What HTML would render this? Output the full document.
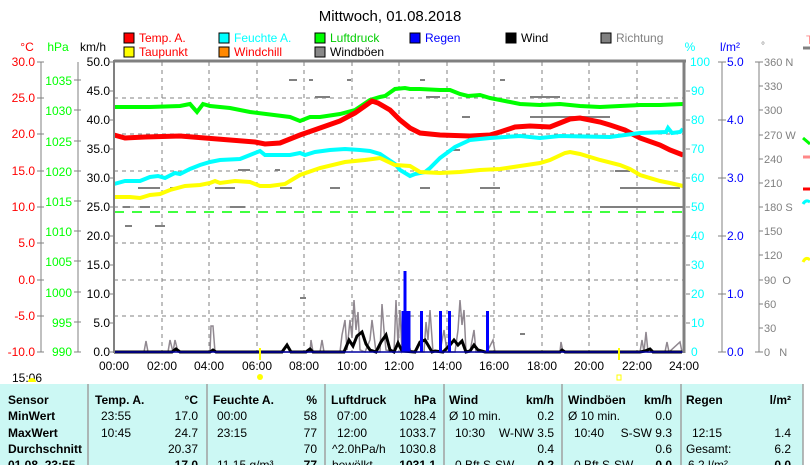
<!DOCTYPE html>
<html><head><meta charset="utf-8"><style>
html,body{margin:0;padding:0;background:#fff;}
svg{display:block;font-family:"Liberation Sans",sans-serif;}
</style></head><body>
<svg width="810" height="465" viewBox="0 0 810 465" xmlns="http://www.w3.org/2000/svg">
<rect width="810" height="465" fill="#fff"/>
<text x="390" y="21" font-size="15" text-anchor="middle" fill="#000">Mittwoch, 01.08.2018</text>
<!-- legend -->
<g font-size="12">
<rect x="124" y="33" width="10" height="10" fill="#f00" stroke="#000"/><text x="139" y="42" fill="#f00">Temp. A.</text>
<rect x="124" y="47" width="10" height="10" fill="#ff0" stroke="#000"/><text x="139" y="56" fill="#f00">Taupunkt</text>
<rect x="219" y="33" width="10" height="10" fill="#0ff" stroke="#000"/><text x="234" y="42" fill="#0ff">Feuchte A.</text>
<rect x="219" y="47" width="10" height="10" fill="#f80" stroke="#000"/><text x="234" y="56" fill="#f00">Windchill</text>
<rect x="315" y="33" width="10" height="10" fill="#0f0" stroke="#000"/><text x="330" y="42" fill="#0c0">Luftdruck</text>
<rect x="315" y="47" width="10" height="10" fill="#888" stroke="#000"/><text x="330" y="56" fill="#000">Windböen</text>
<rect x="410" y="33" width="10" height="10" fill="#00f" stroke="#000"/><text x="425" y="42" fill="#00f">Regen</text>
<rect x="506" y="33" width="10" height="10" fill="#000" stroke="#000"/><text x="521" y="42" fill="#000">Wind</text>
<rect x="601" y="33" width="10" height="10" fill="#808080" stroke="#000"/><text x="616" y="42" fill="#808080">Richtung</text>
</g>
<g font-size="12">
<text x="27" y="51" text-anchor="middle" fill="#f00">°C</text>
<text x="58" y="51" text-anchor="middle" fill="#0f0">hPa</text>
<text x="93" y="51" text-anchor="middle" fill="#000">km/h</text>
<text x="690" y="51" text-anchor="middle" fill="#0ff">%</text>
<text x="730" y="51" text-anchor="middle" fill="#00f">l/m²</text>
<text x="763" y="49" text-anchor="middle" fill="#808080" font-size="10">°</text>
<text x="806" y="44" fill="#f88">T</text>
</g>
<!-- plot grid -->
<g stroke="#808080" stroke-width="1" stroke-dasharray="4,4" fill="none">
<line x1="114" y1="98" x2="684" y2="98"/><line x1="114" y1="134" x2="684" y2="134"/>
<line x1="114" y1="171" x2="684" y2="171"/><line x1="114" y1="207" x2="684" y2="207"/>
<line x1="114" y1="243" x2="684" y2="243"/><line x1="114" y1="280" x2="684" y2="280"/>
<line x1="114" y1="316" x2="684" y2="316"/>
<line x1="162" y1="62" x2="162" y2="352"/><line x1="209" y1="62" x2="209" y2="352"/>
<line x1="257" y1="62" x2="257" y2="352"/><line x1="304" y1="62" x2="304" y2="352"/>
<line x1="352" y1="62" x2="352" y2="352"/><line x1="399" y1="62" x2="399" y2="352"/>
<line x1="447" y1="62" x2="447" y2="352"/><line x1="494" y1="62" x2="494" y2="352"/>
<line x1="542" y1="62" x2="542" y2="352"/><line x1="589" y1="62" x2="589" y2="352"/>
<line x1="637" y1="62" x2="637" y2="352"/>
</g>
<line x1="114" y1="212" x2="684" y2="212" stroke="#0f0" stroke-width="1.5" stroke-dasharray="10,8"/>
<!-- richtung scatter -->
<g stroke="#808080" stroke-width="2">
<line x1="289" y1="80" x2="297" y2="80"/><line x1="309" y1="80" x2="313" y2="80"/><line x1="347" y1="80" x2="351" y2="80"/>
<line x1="315" y1="97" x2="330" y2="97"/><line x1="500" y1="80" x2="505" y2="80"/><line x1="420" y1="80" x2="425" y2="80"/>
<line x1="426" y1="97" x2="440" y2="97"/><line x1="530" y1="117" x2="610" y2="117"/><line x1="530" y1="97" x2="560" y2="97"/>
<line x1="138" y1="188" x2="160" y2="188"/><line x1="170" y1="188" x2="175" y2="188"/><line x1="215" y1="188" x2="235" y2="188"/>
<line x1="238" y1="170" x2="250" y2="170"/><line x1="275" y1="170" x2="280" y2="170"/>
<line x1="123" y1="207" x2="130" y2="207"/><line x1="140" y1="207" x2="150" y2="207"/><line x1="230" y1="207" x2="245" y2="207"/>
<line x1="125" y1="226" x2="132" y2="226"/><line x1="155" y1="226" x2="165" y2="226"/>
<line x1="620" y1="188" x2="680" y2="188"/><line x1="615" y1="171" x2="630" y2="171"/><line x1="600" y1="207" x2="684" y2="207"/>
<line x1="480" y1="188" x2="500" y2="188"/><line x1="420" y1="188" x2="430" y2="188"/><line x1="330" y1="188" x2="340" y2="188"/>
<line x1="280" y1="188" x2="292" y2="188"/><line x1="450" y1="150" x2="460" y2="150"/><line x1="462" y1="117" x2="470" y2="117"/>
<line x1="300" y1="298" x2="306" y2="298"/><line x1="520" y1="334" x2="525" y2="334"/>
</g>
<!-- wind gusts -->
<polyline fill="none" stroke="#908890" stroke-width="1.5" points="114,352 144,352 146,341 148,352 168,352 170,340 173,352 175,340 178,352 210,352 211,326 213,326 215,352 310,352 311,340 313,352 320,352 322,340 324,352 340,352 342,335 345,320 347,350 350,320 352,338 354,300 356,330 358,312 360,350 365,352 370,340 372,320 376,352 380,352 382,304 384,330 386,350 394,352 396,300 398,345 400,310 402,352 409,345 411,352 424,352 426,322 428,340 430,310 433,352 440,352 444,330 447,352 455,352 458,330 460,300 462,325 464,310 466,352 470,352 474,330 476,352 487,352 493,340 495,352 560,352 561,342 563,352 640,352 642,340 644,352 646,332 648,352 665,352 667,342 669,352 680,342 682,352"/>
<!-- wind -->
<polyline fill="none" stroke="#000" stroke-width="3" points="114,352 172,352 176,349 180,352 210,352 213,350 216,352 282,352 287,345 291,352 306,352 310,349 313,352 344,352 349,340 353,346 357,336 362,332 366,344 370,350 376,352 381,342 386,335 390,350 394,352 398,343 402,351 415,352 420,342 425,340 428,345 432,352 435,351 443,352 450,345 454,340 458,345 462,341 466,352 470,351 474,345 478,350 485,352 560,352 562,350 565,352 640,352 645,351 650,349 653,352 682,352"/>
<!-- rain bars -->
<g fill="#0000ff">
<rect x="401.5" y="311" width="9" height="41"/><rect x="403.5" y="271" width="3" height="41"/>
<rect x="420" y="311" width="3" height="41"/><rect x="439" y="311" width="3" height="41"/><rect x="448" y="311" width="3" height="41"/><rect x="486" y="311" width="3" height="41"/>
</g>
<line x1="114" y1="352" x2="684" y2="352" stroke="#0000a0" stroke-width="1.5"/>
<!-- series -->
<polyline fill="none" stroke="#0f0" stroke-width="4" points="114,107 150,107 180,106 190,104 197,112 203,104 210,106 230,108 250,112 290,117 300,121 310,117 320,117 340,114 355,110 370,100 380,97 385,96 395,89 405,88 410,89 420,89 440,90 450,90 460,94 468,96 480,95 490,98 500,100 520,104 540,105 560,104 580,106 600,107 620,106 640,105 660,105 683,104"/>
<polyline fill="none" stroke="#f00" stroke-width="5" points="114,135 125,138 145,137 180,136 230,140 255,142 265,144 280,143 300,135 320,128 340,121 355,113 365,106 372,101 378,103 390,110 400,120 410,128 420,133 440,135 470,136 490,135 500,132 515,127 530,126 550,127 560,123 570,119 580,118 600,122 610,125 625,130 640,138 660,145 670,150 683,155"/>
<polyline fill="none" stroke="#0ff" stroke-width="4" points="114,184 125,181 140,181 150,177 158,176 165,178 175,173 180,174 190,169 200,165 210,162 220,160 240,159 250,155 260,151 265,155 290,155 300,153 305,155 315,152 330,150 345,149 360,150 370,151 380,154 395,164 400,170 410,176 415,174 425,172 430,168 440,158 455,147 470,140 490,138 520,136 540,138 560,136 610,137 625,135 640,133 666,132 668,128 672,133 680,132 683,129"/>
<polyline fill="none" stroke="#ff0" stroke-width="4" points="114,197 130,197 140,198 150,195 160,194 170,190 185,186 200,185 210,183 215,181 220,183 235,181 250,182 260,186 270,186 285,184 300,175 320,168 345,162 365,160 380,158 395,165 410,166 420,172 440,173 460,172 480,170 500,169 520,166 540,163 550,160 565,153 570,152 580,154 600,160 620,165 630,169 640,175 660,181 670,183 683,186"/>
<!-- frame -->
<line x1="114" y1="61" x2="686" y2="61" stroke="#808080" stroke-width="3"/>
<line x1="114" y1="60" x2="114" y2="353" stroke="#808080" stroke-width="2"/>
<line x1="684" y1="60" x2="684" y2="353" stroke="#808080" stroke-width="3"/>
<!-- left axes -->
<g stroke="#808080" stroke-width="1">
<line x1="41" y1="62" x2="41" y2="352"/><line x1="78" y1="62" x2="78" y2="352"/>
<line x1="37" y1="62" x2="44" y2="62"/><line x1="37" y1="98" x2="44" y2="98"/><line x1="37" y1="134" x2="44" y2="134"/><line x1="37" y1="171" x2="44" y2="171"/><line x1="37" y1="207" x2="44" y2="207"/><line x1="37" y1="243" x2="44" y2="243"/><line x1="37" y1="280" x2="44" y2="280"/><line x1="37" y1="316" x2="44" y2="316"/><line x1="37" y1="352" x2="44" y2="352"/>
<line x1="74" y1="80" x2="81" y2="80"/><line x1="74" y1="110" x2="81" y2="110"/><line x1="74" y1="141" x2="81" y2="141"/><line x1="74" y1="171" x2="81" y2="171"/><line x1="74" y1="201" x2="81" y2="201"/><line x1="74" y1="231" x2="81" y2="231"/><line x1="74" y1="261" x2="81" y2="261"/><line x1="74" y1="292" x2="81" y2="292"/><line x1="74" y1="322" x2="81" y2="322"/><line x1="74" y1="352" x2="81" y2="352"/>
<line x1="110" y1="62" x2="114" y2="62"/><line x1="110" y1="91" x2="114" y2="91"/><line x1="110" y1="120" x2="114" y2="120"/><line x1="110" y1="149" x2="114" y2="149"/><line x1="110" y1="178" x2="114" y2="178"/><line x1="110" y1="207" x2="114" y2="207"/><line x1="110" y1="236" x2="114" y2="236"/><line x1="110" y1="265" x2="114" y2="265"/><line x1="110" y1="294" x2="114" y2="294"/><line x1="110" y1="323" x2="114" y2="323"/><line x1="110" y1="352" x2="114" y2="352"/>
</g>
<g font-size="12" text-anchor="end" fill="#f00">
<text x="35" y="66">30.0</text><text x="35" y="102">25.0</text><text x="35" y="138">20.0</text><text x="35" y="175">15.0</text><text x="35" y="211">10.0</text><text x="35" y="247">5.0</text><text x="35" y="284">0.0</text><text x="35" y="320">-5.0</text><text x="35" y="356">-10.0</text>
</g>
<g font-size="12" text-anchor="end" fill="#0f0">
<text x="72" y="85">1035</text><text x="72" y="115">1030</text><text x="72" y="146">1025</text><text x="72" y="176">1020</text><text x="72" y="206">1015</text><text x="72" y="236">1010</text><text x="72" y="266">1005</text><text x="72" y="297">1000</text><text x="72" y="327">995</text><text x="72" y="356">990</text>
</g>
<g font-size="12" text-anchor="end" fill="#000">
<text x="110" y="66">50.0</text><text x="110" y="95">45.0</text><text x="110" y="124">40.0</text><text x="110" y="153">35.0</text><text x="110" y="182">30.0</text><text x="110" y="211">25.0</text><text x="110" y="240">20.0</text><text x="110" y="269">15.0</text><text x="110" y="298">10.0</text><text x="110" y="327">5.0</text><text x="110" y="356">0.0</text>
</g>
<!-- x labels -->
<g font-size="12" text-anchor="middle" fill="#000">
<text x="114" y="370">00:00</text><text x="162" y="370">02:00</text><text x="209" y="370">04:00</text><text x="257" y="370">06:00</text><text x="304" y="370">08:00</text><text x="352" y="370">10:00</text><text x="399" y="370">12:00</text><text x="447" y="370">14:00</text><text x="494" y="370">16:00</text><text x="542" y="370">18:00</text><text x="589" y="370">20:00</text><text x="637" y="370">22:00</text><text x="684" y="370">24:00</text>
</g>
<line x1="260" y1="348" x2="260" y2="360" stroke="#ff0" stroke-width="2"/>
<line x1="619" y1="348" x2="619" y2="360" stroke="#ff0" stroke-width="2"/>
<circle cx="260" cy="377" r="3" fill="#ff0"/>
<rect x="617" y="375" width="4" height="5" fill="none" stroke="#ff0"/>
<!-- right axes -->
<g stroke="#808080" stroke-width="1">
<line x1="686" y1="91" x2="690" y2="91"/><line x1="686" y1="120" x2="690" y2="120"/><line x1="686" y1="149" x2="690" y2="149"/><line x1="686" y1="178" x2="690" y2="178"/><line x1="686" y1="207" x2="690" y2="207"/><line x1="686" y1="236" x2="690" y2="236"/><line x1="686" y1="265" x2="690" y2="265"/><line x1="686" y1="294" x2="690" y2="294"/><line x1="686" y1="323" x2="690" y2="323"/>
<line x1="722" y1="62" x2="722" y2="352"/><line x1="718" y1="62" x2="726" y2="62"/><line x1="718" y1="120" x2="726" y2="120"/><line x1="718" y1="178" x2="726" y2="178"/><line x1="718" y1="236" x2="726" y2="236"/><line x1="718" y1="294" x2="726" y2="294"/><line x1="718" y1="352" x2="726" y2="352"/>
<line x1="759" y1="62" x2="759" y2="352"/>
<line x1="759" y1="62" x2="763" y2="62"/><line x1="759" y1="86" x2="763" y2="86"/><line x1="759" y1="110" x2="763" y2="110"/><line x1="759" y1="135" x2="763" y2="135"/><line x1="759" y1="159" x2="763" y2="159"/><line x1="759" y1="183" x2="763" y2="183"/><line x1="759" y1="207" x2="763" y2="207"/><line x1="759" y1="231" x2="763" y2="231"/><line x1="759" y1="255" x2="763" y2="255"/><line x1="759" y1="280" x2="763" y2="280"/><line x1="759" y1="304" x2="763" y2="304"/><line x1="759" y1="328" x2="763" y2="328"/><line x1="759" y1="352" x2="763" y2="352"/>
<line x1="755" y1="62" x2="759" y2="62"/><line x1="755" y1="352" x2="759" y2="352"/>
</g>
<g font-size="12" fill="#0ff">
<text x="690" y="66">100</text><text x="691" y="95">90</text><text x="691" y="124">80</text><text x="691" y="153">70</text><text x="691" y="182">60</text><text x="691" y="211">50</text><text x="691" y="240">40</text><text x="691" y="269">30</text><text x="691" y="298">20</text><text x="691" y="327">10</text><text x="691" y="356">0</text>
</g>
<g font-size="12" fill="#00f">
<text x="727" y="66">5.0</text><text x="727" y="124">4.0</text><text x="727" y="182">3.0</text><text x="727" y="240">2.0</text><text x="727" y="298">1.0</text><text x="727" y="356">0.0</text>
</g>
<g font-size="11" fill="#808080">
<text x="764" y="66">360 N</text><text x="764" y="90">330</text><text x="764" y="114">300</text><text x="764" y="139">270 W</text><text x="764" y="163">240</text><text x="764" y="187">210</text><text x="764" y="211">180 S</text><text x="764" y="235">150</text><text x="764" y="259">120</text><text x="764" y="284">90&#160;&#160;O</text><text x="764" y="308">60</text><text x="764" y="332">30</text><text x="764" y="356">0&#160;&#160;&#160;N</text>
</g>
<g stroke-width="3" fill="none">
<line x1="803" y1="48" x2="810" y2="48" stroke="#808080"/>
<path d="M803,138 L810,144" stroke="#0f0"/><line x1="803" y1="157" x2="810" y2="157" stroke="#f88"/>
<line x1="803" y1="189" x2="810" y2="189" stroke="#f00"/><path d="M803,204 Q806,199 810,202" stroke="#0ff"/>
<path d="M803,262 Q806,256 810,260" stroke="#ff0"/>
</g>
<!-- status row -->
<text x="12" y="382" font-size="12" fill="#000">15:06</text>
<path d="M28,382 a4,4 0 0 1 8,0 z" fill="#ff0"/>
<!-- table -->
<rect x="0" y="384" width="803" height="81" fill="#ccf8f4"/>
<g stroke="#a0a0a0" stroke-width="1.5">
<line x1="88" y1="384" x2="88" y2="465"/><line x1="207" y1="384" x2="207" y2="465"/><line x1="325" y1="384" x2="325" y2="465"/><line x1="444" y1="384" x2="444" y2="465"/><line x1="562" y1="384" x2="562" y2="465"/><line x1="681" y1="384" x2="681" y2="465"/><line x1="803" y1="384" x2="803" y2="465"/>
</g>
<g font-size="12" fill="#000">
<g font-weight="bold">
<text x="8" y="404">Sensor</text><text x="8" y="420">MinWert</text><text x="8" y="437">MaxWert</text><text x="8" y="453">Durchschnitt</text><text x="8" y="469">01.08. 23:55</text>
<text x="95" y="404">Temp. A.</text><text x="198" y="404" text-anchor="end">°C</text>
<text x="213" y="404">Feuchte A.</text><text x="317" y="404" text-anchor="end">%</text>
<text x="331" y="404">Luftdruck</text><text x="436" y="404" text-anchor="end">hPa</text>
<text x="449" y="404">Wind</text><text x="554" y="404" text-anchor="end">km/h</text>
<text x="568" y="404">Windböen</text><text x="672" y="404" text-anchor="end">km/h</text>
<text x="686" y="404">Regen</text><text x="791" y="404" text-anchor="end">l/m²</text>
<text x="198" y="469" text-anchor="end">17.0</text><text x="317" y="469" text-anchor="end">77</text><text x="436" y="469" text-anchor="end">1031.1</text><text x="554" y="469" text-anchor="end">0.2</text><text x="672" y="469" text-anchor="end">0.0</text><text x="791" y="469" text-anchor="end">0.0</text>
</g>
<text x="101" y="420">23:55</text><text x="198" y="420" text-anchor="end">17.0</text>
<text x="101" y="437">10:45</text><text x="198" y="437" text-anchor="end">24.7</text>
<text x="198" y="453" text-anchor="end">20.37</text>
<text x="217" y="420">00:00</text><text x="317" y="420" text-anchor="end">58</text>
<text x="217" y="437">23:15</text><text x="317" y="437" text-anchor="end">77</text>
<text x="317" y="453" text-anchor="end">70</text><text x="217" y="469">11.15 g/m³</text>
<text x="337" y="420">07:00</text><text x="436" y="420" text-anchor="end">1028.4</text>
<text x="337" y="437">12:00</text><text x="436" y="437" text-anchor="end">1033.7</text>
<text x="332" y="453">^2.0hPa/h</text><text x="436" y="453" text-anchor="end">1030.8</text><text x="332" y="469">bewölkt</text>
<text x="449" y="420">Ø 10 min.</text><text x="554" y="420" text-anchor="end">0.2</text>
<text x="455" y="437">10:30</text><text x="554" y="437" text-anchor="end">W-NW 3.5</text>
<text x="554" y="453" text-anchor="end">0.4</text><text x="455" y="469">0 Bft S-SW</text>
<text x="568" y="420">Ø 10 min.</text><text x="672" y="420" text-anchor="end">0.0</text>
<text x="574" y="437">10:40</text><text x="672" y="437" text-anchor="end">S-SW 9.3</text>
<text x="672" y="453" text-anchor="end">0.6</text><text x="574" y="469">0 Bft S-SW</text>
<text x="692" y="437">12:15</text><text x="791" y="437" text-anchor="end">1.4</text>
<text x="686" y="453">Gesamt:</text><text x="791" y="453" text-anchor="end">6.2</text><text x="688" y="469">6.2 l/m²</text>
</g>
</svg>
</body></html>
